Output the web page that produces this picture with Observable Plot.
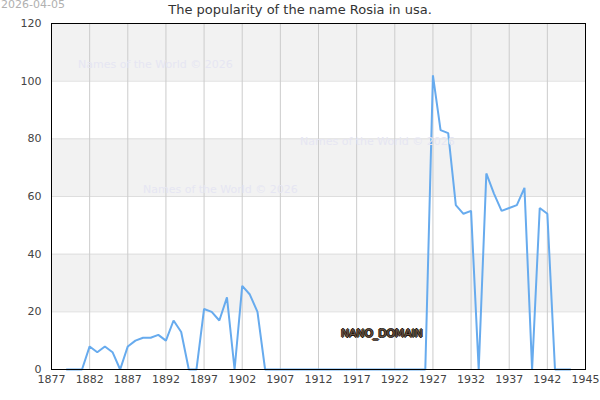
<!DOCTYPE html>
<html>
<head>
<meta charset="utf-8">
<script src="https://cdn.jsdelivr.net/npm/d3@7"></script>
<script src="https://cdn.jsdelivr.net/npm/@observablehq/plot@0.6"></script>
<style>
  html, body { margin: 0; padding: 0; background: #fff; }
  #wrap { position: relative; width: 600px; height: 400px; font-family: "DejaVu Sans", sans-serif; }
  .abs { position: absolute; white-space: nowrap; }
  #date { left: 1px; top: -2px; font-size: 11px; color: #b0b0b0; }
  #title { left: 0; width: 600px; top: 2px; text-align: center; font-size: 13px; color: #333; }
  .wm { font-size: 11px; color: #e6e6f3; }
  #nano { font-size: 11px; color: #6a5444; letter-spacing: -0.2px;
    text-shadow: 1px 0 0 #1e140c, -1px 0 0 #1e140c, 0 1px 0 #1e140c, 0 -1px 0 #1e140c; }
</style>
</head>
<body>
<div id="wrap"></div>
<script>
const years = [1879,1880,1881,1882,1883,1884,1885,1886,1887,1888,1889,1890,1891,1892,1893,1894,1895,1896,1897,1898,1899,1900,1901,1902,1903,1904,1905,1906,1907,1908,1909,1910,1911,1912,1913,1914,1915,1916,1917,1918,1919,1920,1921,1922,1923,1924,1925,1926,1927,1928,1929,1930,1931,1932,1933,1934,1935,1936,1937,1938,1939,1940,1941,1942,1943,1944,1945];
const counts = [0,0,0,8,6,8,6,0,8,10,11,11,12,10,17,13,0,0,21,20,17,25,0,29,26,20,0,0,0,0,0,0,0,0,0,0,0,0,0,0,0,0,0,0,0,0,0,0,102,83,82,57,54,55,0,68,61,55,56,57,63,0,56,54,0,0,0];
const xTickPositions = [1877,1882,1887,1892,1897,1902,1907,1912,1917,1922,1927,1932,1937,1942,1947];
const xTickLabels = ["1877","1882","1887","1892","1897","1902","1907","1912","1917","1922","1927","1932","1937","1942","1945"];
const yTicks = [0,20,40,60,80,100,120];
const bandLows = [20,60,100];
const bandHighs = [40,80,120];
const titleText = "The popularity of the name Rosia in usa.";
const dateText = "2026-04-05";
const watermarkText = "Names of the World © 2026";

const data = years.map((y, i) => ({year: y, count: counts[i]}));
const bands = bandLows.map((lo, i) => ({lo, hi: bandHighs[i]}));
const labelOf = new Map(xTickPositions.map((p, i) => [p, xTickLabels[i]]));

const chart = Plot.plot({
  width: 600,
  height: 400,
  marginLeft: 51,
  marginRight: 15,
  marginTop: 23,
  marginBottom: 31,
  style: {fontFamily: "DejaVu Sans, sans-serif", fontSize: "11px", color: "#444", background: "transparent"},
  x: {domain: [1877, 1947]},
  y: {domain: [0, 120]},
  marks: [
    Plot.rectY(bands, {x1: 1877, x2: 1947, y1: "lo", y2: "hi", fill: "#f2f2f2"}),
    Plot.ruleY(yTicks.filter(d => d > 0 && d < 120), {stroke: "#dedede", strokeWidth: 1}),
    Plot.ruleX(xTickPositions.filter(d => d > 1877 && d < 1947), {stroke: "#cccccc", strokeWidth: 1}),
    Plot.axisX({ticks: xTickPositions, tickFormat: d => labelOf.get(d), tickSize: 0, tickPadding: 6, label: null, fill: "#444"}),
    Plot.axisY({ticks: yTicks, tickSize: 0, tickPadding: 10, label: null, fill: "#444"}),
    Plot.line(data, {x: "year", y: "count", stroke: "#67abee", strokeWidth: 2, strokeLinejoin: "miter"}),
    Plot.frame({stroke: "#000", strokeWidth: 1})
  ]
});

const wrap = document.getElementById("wrap");
wrap.appendChild(chart);

function addText(id, cls, text, left, top) {
  const d = document.createElement("div");
  if (id) d.id = id;
  d.className = "abs " + (cls || "");
  d.textContent = text;
  if (left != null) d.style.left = left + "px";
  if (top != null) d.style.top = top + "px";
  wrap.appendChild(d);
}
addText("date", "", dateText);
addText("title", "", titleText);
addText(null, "wm", watermarkText, 78, 58);
addText(null, "wm", watermarkText, 300, 135);
addText(null, "wm", watermarkText, 143, 183);
addText("nano", "", "NANO_DOMAIN", 341, 327);
</script>
</body>
</html>
